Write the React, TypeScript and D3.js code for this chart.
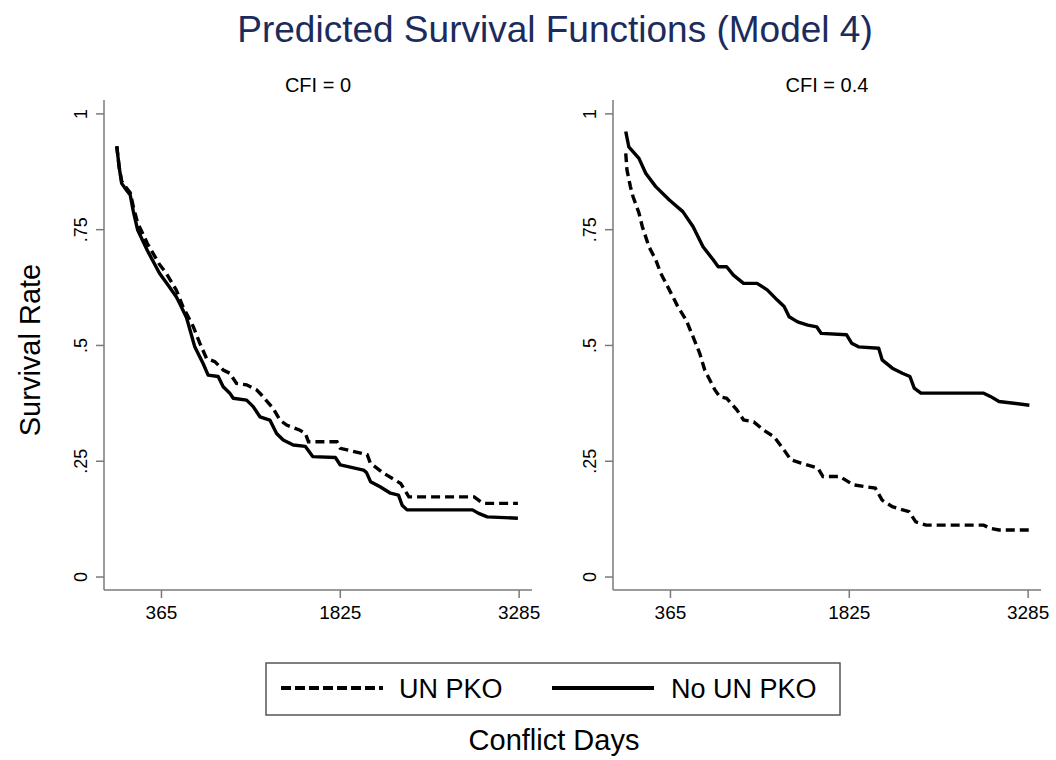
import React, { useEffect, useRef } from 'react';
import * as d3 from 'd3';

// predicted survival: [conflict day, survival rate]
const cfi0NoPko: [number, number][] = [
  [0, 0.93], [20, 0.885], [40, 0.85], [80, 0.835], [110, 0.825], [135, 0.79], [170, 0.75],
  [250, 0.705], [349, 0.656], [420, 0.63], [486, 0.605], [515, 0.59], [570, 0.56],
  [637, 0.497], [705, 0.461], [746, 0.436], [828, 0.433], [869, 0.411], [923, 0.397],
  [951, 0.386], [1060, 0.382], [1114, 0.368], [1169, 0.346], [1250, 0.339], [1305, 0.31],
  [1359, 0.296], [1441, 0.285], [1540, 0.282], [1600, 0.26], [1785, 0.258], [1825, 0.242],
  [2015, 0.231], [2040, 0.225], [2072, 0.206], [2150, 0.195], [2235, 0.181], [2300, 0.177],
  [2330, 0.155], [2370, 0.145], [2905, 0.145], [2950, 0.138], [3025, 0.13], [3275, 0.127],
];

const cfi0Pko: [number, number][] = [
  [0, 0.93], [20, 0.885], [40, 0.855], [80, 0.84], [110, 0.83], [135, 0.8], [170, 0.765],
  [250, 0.72], [349, 0.675], [404, 0.656], [486, 0.62], [540, 0.584], [624, 0.541],
  [678, 0.505], [733, 0.472], [801, 0.465], [869, 0.447], [923, 0.44], [978, 0.418],
  [1060, 0.415], [1142, 0.404], [1182, 0.393], [1277, 0.364], [1332, 0.339], [1387, 0.328],
  [1496, 0.317], [1540, 0.31], [1565, 0.292], [1798, 0.292], [1825, 0.278], [2045, 0.264],
  [2070, 0.246], [2180, 0.224], [2318, 0.202], [2385, 0.173], [2918, 0.173], [2975, 0.162],
  [3000, 0.159], [3275, 0.159],
];

const cfi04NoPko: [number, number][] = [
  [0, 0.962], [25, 0.929], [108, 0.904], [163, 0.872], [245, 0.843], [356, 0.814],
  [466, 0.789], [549, 0.757], [631, 0.713], [714, 0.685], [755, 0.67], [824, 0.67],
  [879, 0.652], [962, 0.634], [1072, 0.634], [1155, 0.62], [1237, 0.598], [1293, 0.584],
  [1334, 0.562], [1403, 0.551], [1486, 0.544], [1560, 0.54], [1596, 0.526], [1803, 0.523],
  [1844, 0.505], [1900, 0.497], [2065, 0.494], [2093, 0.469], [2176, 0.451], [2258, 0.44],
  [2320, 0.433], [2355, 0.408], [2410, 0.397], [2922, 0.397], [2977, 0.39], [3047, 0.379],
  [3295, 0.371],
];

const cfi04Pko: [number, number][] = [
  [0, 0.915], [10, 0.879], [38, 0.843], [60, 0.821], [108, 0.786], [135, 0.757],
  [190, 0.713], [245, 0.685], [286, 0.656], [356, 0.62], [425, 0.584], [493, 0.555],
  [549, 0.519], [604, 0.483], [645, 0.447], [728, 0.404], [769, 0.389], [824, 0.386],
  [907, 0.361], [962, 0.339], [1045, 0.335], [1127, 0.317], [1210, 0.303], [1293, 0.274],
  [1348, 0.253], [1431, 0.246], [1569, 0.235], [1610, 0.217], [1748, 0.217], [1858, 0.199],
  [2037, 0.192], [2093, 0.166], [2176, 0.152], [2313, 0.141], [2368, 0.119], [2451, 0.112],
  [2922, 0.112], [2977, 0.105], [3047, 0.1015], [3290, 0.1015],
];

const xTicks = [365, 1825, 3285];
const yTicks = [0, 0.25, 0.5, 0.75, 1];
const yTickLabels = ['0', '.25', '.5', '.75', '1'];

const panels = [
  { title: 'CFI = 0', pko: cfi0Pko, noPko: cfi0NoPko, left: 104 },
  { title: 'CFI = 0.4', pko: cfi04Pko, noPko: cfi04NoPko, left: 613 },
];

const FONT = '"Liberation Sans", Arial, Helvetica, sans-serif';
const AXIS = '#7a7a7a';
const DASH = '9,5';

const App: React.FC = () => {
  const svgRef = useRef<SVGSVGElement>(null);

  useEffect(() => {
    if (!svgRef.current) return;
    const svg = d3.select(svgRef.current);
    svg.selectAll('*').remove();

    const W = 1056, H = 760;
    svg.attr('width', W).attr('height', H);
    svg.append('rect').attr('width', W).attr('height', H).attr('fill', 'white');

    // Title
    svg.append('text')
      .attr('x', 555).attr('y', 42)
      .attr('text-anchor', 'middle')
      .attr('font-family', FONT).attr('font-size', 37)
      .attr('fill', '#1b2b5c')
      .text('Predicted Survival Functions (Model 4)');

    const panelW = 428;
    const top = 100, bottom = 590;
    const y = d3.scaleLinear().domain([-0.028, 1.03]).range([bottom, top]);

    panels.forEach(p => {
      const x = d3.scaleLinear().domain([-104, 3390]).range([p.left, p.left + panelW]);
      const g = svg.append('g');

      // panel title
      g.append('text')
        .attr('x', p.left + panelW / 2).attr('y', 92)
        .attr('text-anchor', 'middle')
        .attr('font-family', FONT).attr('font-size', 20)
        .text(p.title);

      // y axis
      g.append('line')
        .attr('x1', p.left).attr('x2', p.left).attr('y1', top).attr('y2', bottom)
        .attr('stroke', AXIS).attr('stroke-width', 1.5);
      yTicks.forEach((t, i) => {
        g.append('line')
          .attr('x1', p.left - 8).attr('x2', p.left).attr('y1', y(t)).attr('y2', y(t))
          .attr('stroke', AXIS).attr('stroke-width', 1.5);
        g.append('text')
          .attr('transform', `translate(${p.left - 17},${y(t)}) rotate(-90)`)
          .attr('text-anchor', 'middle')
          .attr('font-family', FONT).attr('font-size', 18)
          .text(yTickLabels[i]);
      });

      // x axis
      g.append('line')
        .attr('x1', p.left).attr('x2', p.left + panelW).attr('y1', bottom).attr('y2', bottom)
        .attr('stroke', AXIS).attr('stroke-width', 1.5);
      xTicks.forEach(t => {
        g.append('line')
          .attr('x1', x(t)).attr('x2', x(t)).attr('y1', bottom).attr('y2', bottom + 8)
          .attr('stroke', AXIS).attr('stroke-width', 1.5);
        g.append('text')
          .attr('x', x(t)).attr('y', 619)
          .attr('text-anchor', 'middle')
          .attr('font-family', FONT).attr('font-size', 19)
          .text(t);
      });

      const line = d3.line<[number, number]>()
        .x(d => x(d[0]))
        .y(d => y(d[1]));

      g.append('path')
        .attr('d', line(p.noPko))
        .attr('fill', 'none').attr('stroke', 'black').attr('stroke-width', 3.4)
        .attr('stroke-linejoin', 'round');

      g.append('path')
        .attr('d', line(p.pko))
        .attr('fill', 'none').attr('stroke', 'black').attr('stroke-width', 3.4)
        .attr('stroke-dasharray', DASH);
    });

    // Y label
    svg.append('text')
      .attr('transform', 'translate(40,350) rotate(-90)')
      .attr('text-anchor', 'middle')
      .attr('font-family', FONT).attr('font-size', 29)
      .text('Survival Rate');

    // Legend
    const lg = svg.append('g');
    lg.append('rect')
      .attr('x', 266).attr('y', 663).attr('width', 574).attr('height', 52)
      .attr('fill', 'white').attr('stroke', '#555').attr('stroke-width', 1.5);
    lg.append('line')
      .attr('x1', 281).attr('x2', 383).attr('y1', 688).attr('y2', 688)
      .attr('stroke', 'black').attr('stroke-width', 4).attr('stroke-dasharray', '10,4');
    lg.append('text')
      .attr('x', 399).attr('y', 698)
      .attr('font-family', FONT).attr('font-size', 27)
      .text('UN PKO');
    lg.append('line')
      .attr('x1', 552).attr('x2', 654).attr('y1', 688).attr('y2', 688)
      .attr('stroke', 'black').attr('stroke-width', 4);
    lg.append('text')
      .attr('x', 671).attr('y', 698)
      .attr('font-family', FONT).attr('font-size', 27)
      .text('No UN PKO');

    // X label
    svg.append('text')
      .attr('x', 554).attr('y', 750)
      .attr('text-anchor', 'middle')
      .attr('font-family', FONT).attr('font-size', 29)
      .text('Conflict Days');
  }, []);

  return (
    <div style={{ position: 'absolute', left: 0, top: 0 }}>
      <svg ref={svgRef} style={{ display: 'block' }}></svg>
    </div>
  );
};

export default App;
